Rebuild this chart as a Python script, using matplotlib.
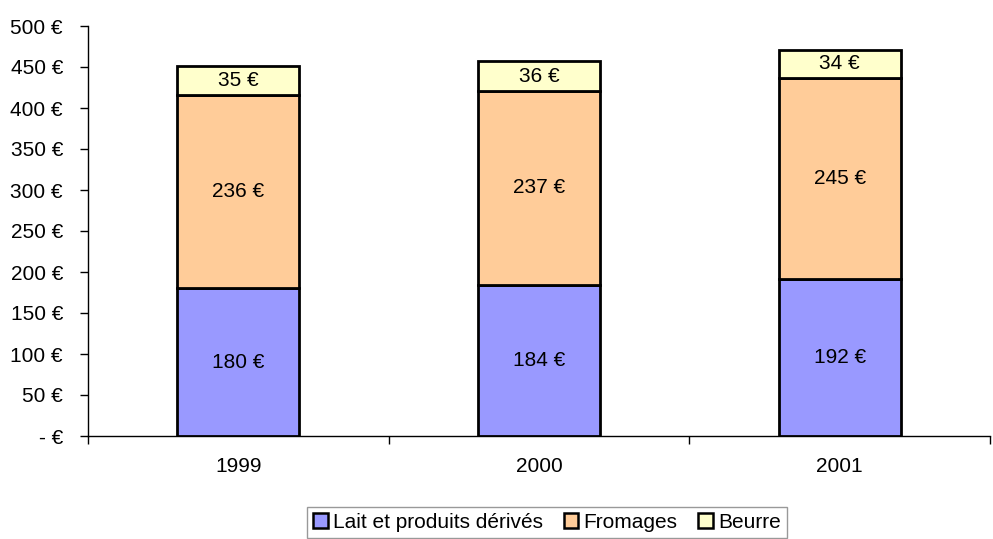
import matplotlib.pyplot as plt
from matplotlib.ticker import FuncFormatter, MultipleLocator
from matplotlib.patches import Patch

plt.rcParams['font.family'] = ['Liberation Sans', 'DejaVu Sans']

# données (€)
annees = ['1999', '2000', '2001']
lait = [180, 184, 192]
fromages = [236, 237, 245]
beurre = [35, 36, 34]

series = [
    ('Lait et produits dérivés', lait, '#9999FF'),
    ('Fromages', fromages, '#FFCC99'),
    ('Beurre', beurre, '#FFFFCC'),
]

fs = 15

fig = plt.figure(figsize=(9.93, 5.39), dpi=100)
ax = fig.add_axes([88 / 993, 103 / 539, 902 / 993, 410 / 539])

x = range(len(annees))
bas = [0] * len(annees)
for nom, vals, couleur in series:
    ax.bar(x, vals, width=0.405, bottom=bas, color=couleur,
           edgecolor='black', linewidth=2, zorder=3)
    for xi, b, v in zip(x, bas, vals):
        ax.text(xi, b + v / 2, f'{v} €', ha='center', va='center', fontsize=fs)
    bas = [b + v for b, v in zip(bas, vals)]

ax.set_xlim(-0.5, 2.5)
ax.set_ylim(0, 500)
ax.yaxis.set_major_locator(MultipleLocator(50))
ax.yaxis.set_major_formatter(FuncFormatter(lambda v, p: '- €' if v == 0 else f'{v:.0f} €'))
ax.set_xticks([0, 1, 2])
ax.set_xticklabels(annees)
ax.set_xticks([-0.5, 0.5, 1.5, 2.5], minor=True)
ax.tick_params(axis='x', which='major', length=0, pad=15, labelsize=fs)
ax.tick_params(axis='x', which='minor', length=6, width=1)
ax.tick_params(axis='y', length=6, width=1, labelsize=fs, pad=12)

for s in ['top', 'right']:
    ax.spines[s].set_visible(False)
ax.spines['left'].set_linewidth(1)
ax.spines['bottom'].set_linewidth(1)

poignees = [Patch(facecolor=c, edgecolor='black', linewidth=1.8, label=n) for n, _, c in series]
leg = fig.legend(handles=poignees, loc='lower center', bbox_to_anchor=(547 / 993, 1 / 539),
                 ncol=3, fontsize=fs, frameon=True, fancybox=False,
                 handlelength=0.7, handleheight=0.7, handletextpad=0.25,
                 columnspacing=1.0, borderpad=0.3, borderaxespad=0,
                 edgecolor='#808080')
leg.get_frame().set_linewidth(1)

fig.savefig('out.png', dpi=100)
